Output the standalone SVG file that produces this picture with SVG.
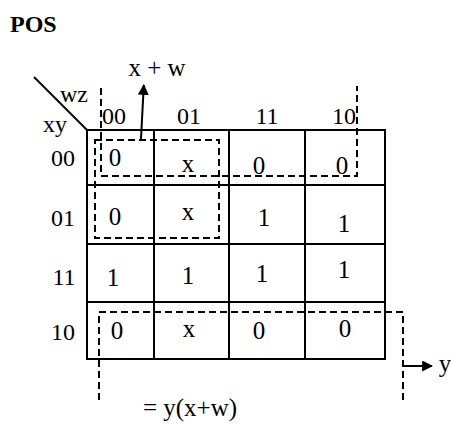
<svg xmlns="http://www.w3.org/2000/svg" width="451" height="424" viewBox="0 0 451 424" font-family="'Liberation Serif', 'Times New Roman', serif">
<style>
text{font-family:'Liberation Serif','Times New Roman',serif;fill:#000}
.lbl{font-size:24px;text-anchor:middle}
.val{font-size:25px;text-anchor:middle}
.grid{stroke:#000;stroke-width:2;fill:none}
.dash{stroke:#000;stroke-width:2;fill:none;stroke-dasharray:7 4}
.ln{stroke:#000;stroke-width:2;fill:none}
</style>
<defs>
<marker id="ah" viewBox="0 0 10 10" refX="9" refY="5" markerWidth="5.5" markerHeight="5.5" orient="auto" markerUnits="strokeWidth">
<path d="M0,0 L10,5 L0,10 z" fill="#000"/>
</marker>
</defs>
<rect width="451" height="424" fill="#fff"/>
<text x="10" y="32" font-size="24" font-weight="bold">POS</text>
<g id="kmap">
<rect class="grid" x="87" y="130" width="298" height="229"/>
<path class="grid" d="M154,130V359M229,130V359M305,130V359M87,185H385M87,244H385M87,302H385"/>
<path class="ln" d="M34,77L87,130"/>
<text x="74" y="102" class="lbl">wz</text>
<text x="55" y="132" class="lbl">xy</text>
</g>
<g id="col-labels">
<text x="114" y="124" class="lbl">00</text>
<text x="189" y="124" class="lbl">01</text>
<text x="267" y="124" class="lbl">11</text>
<text x="344" y="124" class="lbl">10</text>
</g>
<g id="row-labels">
<text x="63" y="166" class="lbl">00</text>
<text x="63" y="226" class="lbl">01</text>
<text x="64" y="285" class="lbl">11</text>
<text x="63" y="340" class="lbl">10</text>
</g>
<g id="cells">
<text x="115" y="166" class="val">0</text>
<text x="188" y="172" class="val">x</text>
<text x="259" y="174" class="val">0</text>
<text x="342" y="174" class="val">0</text>
<text x="115" y="225" class="val">0</text>
<text x="188" y="220" class="val">x</text>
<text x="264" y="226" class="val">1</text>
<text x="344" y="232" class="val">1</text>
<text x="113" y="286" class="val">1</text>
<text x="188" y="284" class="val">1</text>
<text x="262" y="282" class="val">1</text>
<text x="344" y="278" class="val">1</text>
<text x="117" y="339" class="val">0</text>
<text x="189" y="337" class="val">x</text>
<text x="259" y="339" class="val">0</text>
<text x="345" y="337" class="val">0</text>
</g>
<g id="connectors">
<rect class="dash" x="95" y="140" width="124" height="98"/>
<path class="dash" d="M101,88V176H357V86"/>
<path class="dash" d="M99,400V312H403V400"/>
<path class="ln" d="M141,139L143.8,85" marker-end="url(#ah)"/>
<path class="ln" d="M403,366H432" marker-end="url(#ah)"/>
</g>
<g id="labels">
<text x="157" y="76" class="val">x + w</text>
<text x="445" y="372" class="val">y</text>
<text x="190" y="416" class="val">= y(x+w)</text>
</g>
</svg>
